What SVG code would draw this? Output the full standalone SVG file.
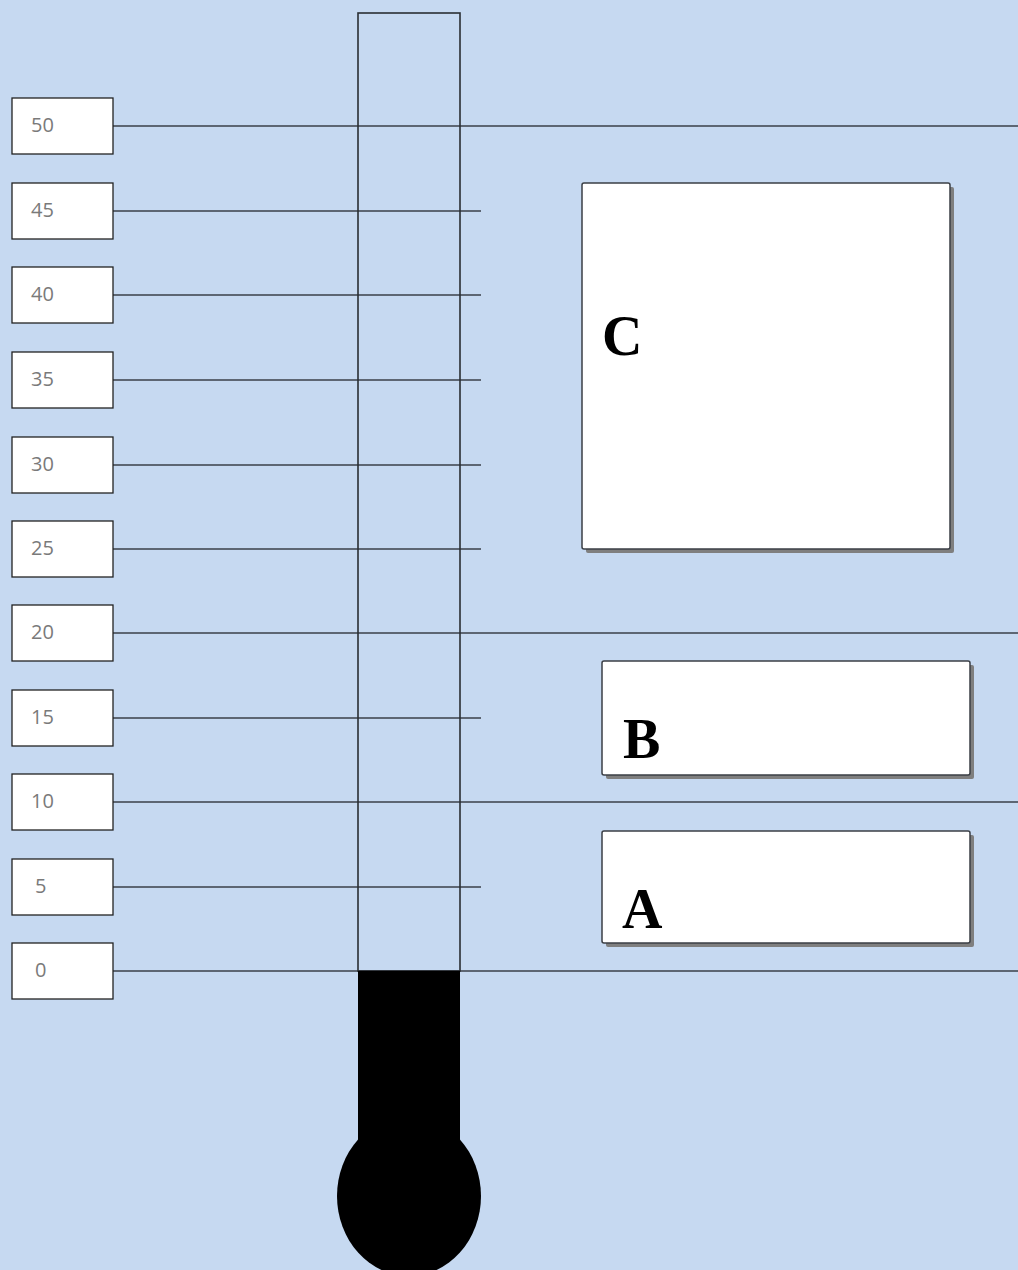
<svg xmlns="http://www.w3.org/2000/svg" width="1018" height="1270" viewBox="0 0 1018 1270">
<style>
.lbl rect{fill:#fff;stroke:#222;stroke-width:1.3}
.lbl text{font-family:"Open Sans","DejaVu Sans",sans-serif;font-size:20px;fill:#7a7a7a}
.ln{stroke:#3a3f48;stroke-width:1.6;fill:none}
.box .sh{fill:#7f7f7f}
.box .bg{fill:#fff;stroke:#3b3f45;stroke-width:1.5}
.box text{font-family:"Liberation Serif","Times New Roman",serif;font-weight:bold;font-size:56px;fill:#000}
</style>
<rect width="1018" height="1270" fill="#C6D9F1"/>
<g id="connectors">
<line class="ln" x1="113" y1="126" x2="1018" y2="126"/>
<line class="ln" x1="113" y1="211" x2="481" y2="211"/>
<line class="ln" x1="113" y1="295" x2="481" y2="295"/>
<line class="ln" x1="113" y1="380" x2="481" y2="380"/>
<line class="ln" x1="113" y1="465" x2="481" y2="465"/>
<line class="ln" x1="113" y1="549" x2="481" y2="549"/>
<line class="ln" x1="113" y1="633" x2="1018" y2="633"/>
<line class="ln" x1="113" y1="718" x2="481" y2="718"/>
<line class="ln" x1="113" y1="802" x2="1018" y2="802"/>
<line class="ln" x1="113" y1="887" x2="481" y2="887"/>
<line class="ln" x1="113" y1="971" x2="1018" y2="971"/>
</g>
<g id="thermometer">
<rect x="358" y="13" width="102" height="958" fill="none" stroke="#2a2e33" stroke-width="1.6"/>
<rect x="358" y="971" width="102" height="180" fill="#000"/>
<ellipse cx="409" cy="1196" rx="72" ry="80" fill="#000"/>
</g>
<g id="label-50" class="lbl"><rect x="12" y="98" width="101" height="56"/><text x="31" y="132">50</text></g>
<g id="label-45" class="lbl"><rect x="12" y="183" width="101" height="56"/><text x="31" y="217">45</text></g>
<g id="label-40" class="lbl"><rect x="12" y="267" width="101" height="56"/><text x="31" y="301">40</text></g>
<g id="label-35" class="lbl"><rect x="12" y="352" width="101" height="56"/><text x="31" y="386">35</text></g>
<g id="label-30" class="lbl"><rect x="12" y="437" width="101" height="56"/><text x="31" y="471">30</text></g>
<g id="label-25" class="lbl"><rect x="12" y="521" width="101" height="56"/><text x="31" y="555">25</text></g>
<g id="label-20" class="lbl"><rect x="12" y="605" width="101" height="56"/><text x="31" y="639">20</text></g>
<g id="label-15" class="lbl"><rect x="12" y="690" width="101" height="56"/><text x="31" y="724">15</text></g>
<g id="label-10" class="lbl"><rect x="12" y="774" width="101" height="56"/><text x="31" y="808">10</text></g>
<g id="label-5" class="lbl"><rect x="12" y="859" width="101" height="56"/><text x="35" y="893">5</text></g>
<g id="label-0" class="lbl"><rect x="12" y="943" width="101" height="56"/><text x="35" y="977">0</text></g>
<g id="box-C" class="box">
<rect class="sh" x="586" y="187" width="368" height="366" rx="2"/>
<rect class="bg" x="582" y="183" width="368" height="366" rx="2"/>
<text x="602" y="355">C</text>
</g>
<g id="box-B" class="box">
<rect class="sh" x="606" y="665" width="368" height="114" rx="2"/>
<rect class="bg" x="602" y="661" width="368" height="114" rx="2"/>
<text x="623" y="758">B</text>
</g>
<g id="box-A" class="box">
<rect class="sh" x="606" y="835" width="368" height="112" rx="2"/>
<rect class="bg" x="602" y="831" width="368" height="112" rx="2"/>
<text x="622" y="928">A</text>
</g>
</svg>
